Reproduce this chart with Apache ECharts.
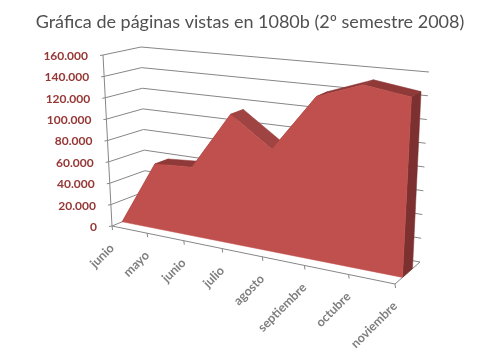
<!DOCTYPE html>
<html>
<head>
<meta charset="utf-8">
<style>
  html, body { margin: 0; padding: 0; background: #fff; }
  #chart { width: 500px; height: 360px; }
</style>
<script src="https://cdn.jsdelivr.net/npm/echarts@6/dist/echarts.min.js"></script>
</head>
<body>
<div id="chart"></div>
<script>
const chartTitle = 'Gráfica de páginas vistas en 1080b (2º semestre 2008)';
const months = ['junio', 'mayo', 'junio', 'julio', 'agosto', 'septiembre', 'octubre', 'noviembre'];
const pageViews = [0, 60000, 62500, 115000, 89000, 139000, 153000, 147000];
const valueTicks = [0, 20000, 40000, 60000, 80000, 100000, 120000, 140000, 160000];
const tickLabels = ['0', '20.000', '40.000', '60.000', '80.000', '100.000', '120.000', '140.000', '160.000'];

// corners of the 3D box on screen: [floor/ceiling][front/back][left/right]
const box = {
  floorFrontLeft: [112, 226], floorFrontRight: [395, 284],
  floorBackLeft: [146, 212], floorBackRight: [420, 262],
  ceilFrontLeft: [103, 55], ceilFrontRight: [405, 85],
  ceilBackLeft: [141, 47], ceilBackRight: [429, 72]
};
const perspective = 0.15;
const areaFront = 0.3;
const areaBack = 0.7;

const mix = (a, b, t) => [a[0] + (b[0] - a[0]) * t, a[1] + (b[1] - a[1]) * t];

// grid is 100x100 px, so api.coord gives the scaled position inside the unit box
function project(api, category, value, depth) {
  const c = api.coord([category, value]);
  const u = c[0] / 100;
  const v = 1 - c[1] / 100;
  const s = u * (1 - perspective) / (1 - perspective * u);
  const floor = mix(mix(box.floorFrontLeft, box.floorFrontRight, s), mix(box.floorBackLeft, box.floorBackRight, s), depth);
  const ceil = mix(mix(box.ceilFrontLeft, box.ceilFrontRight, s), mix(box.ceilBackLeft, box.ceilBackRight, s), depth);
  return mix(floor, ceil, v);
}

const line = (a, b) => ({
  type: 'line',
  shape: { x1: a[0], y1: a[1], x2: b[0], y2: b[1] },
  style: { stroke: '#868686', lineWidth: 1 }
});
const poly = (points, color) => ({
  type: 'polygon',
  shape: { points },
  style: { fill: color, stroke: color, lineWidth: 0.5 }
});

function renderWalls(params, api) {
  const value = api.value(1);
  const last = months.length - 1;
  const front = project(api, 0, value, 0);
  const back = project(api, 0, value, 1);
  const right = project(api, last, value, 1);
  const children = [
    line(front, back),
    line(back, right),
    line(front, [front[0] - 3, front[1] + 0.5]),
    {
      type: 'text',
      x: front[0] - 15,
      y: front[1] + 1,
      style: {
        text: tickLabels[params.dataIndex],
        align: 'right',
        verticalAlign: 'middle',
        fill: '#953735',
        font: 'bold 12px Lato'
      }
    }
  ];
  if (params.dataIndex === 0) {
    children.push(line(front, project(api, 0, 160000, 0)));
    children.push(line(front, project(api, last, 0, 0)));
    children.push(line(project(api, last, 0, 0), right));
  }
  return { type: 'group', children };
}

function renderCategory(params, api) {
  const tick = project(api, api.value(0), 0, 0);
  return {
    type: 'group',
    children: [
      line(tick, [tick[0] + 0.5, tick[1] + 4]),
      {
        type: 'text',
        x: tick[0],
        y: tick[1] + 20,
        rotation: Math.PI / 4,
        style: {
          text: months[params.dataIndex],
          align: 'right',
          verticalAlign: 'middle',
          fill: '#7f7f7f',
          font: 'bold 12.5px Lato'
        }
      }
    ]
  };
}

// one top face per segment, darker when flat, lighter when it falls steeply
function renderTopFace(params, api) {
  const i = params.dataIndex;
  const last = months.length - 1;
  const a = project(api, i, pageViews[i], areaFront);
  const aBack = project(api, i, pageViews[i], areaBack);
  if (i === last) {
    return poly([a, aBack, project(api, i, 0, areaBack), project(api, i, 0, areaFront)], '#7c302f');
  }
  const b = project(api, i + 1, pageViews[i + 1], areaFront);
  const bBack = project(api, i + 1, pageViews[i + 1], areaBack);
  const color = pageViews[i + 1] - pageViews[i] < -20000 ? '#9f4442' : '#8f3a38';
  return poly([a, aBack, bBack, b], color);
}

function renderFront(params, api) {
  if (params.dataIndex !== 0) return null;
  const points = pageViews.map((v, i) => project(api, i, v, areaFront));
  points.push(project(api, months.length - 1, 0, areaFront));
  points.push(project(api, 0, 0, areaFront));
  return poly(points, '#c0504d');
}

const rows = pageViews.map((v, i) => [i, v]);
const chart = echarts.init(document.getElementById('chart'), null, { renderer: 'canvas' });
chart.setOption({
  animation: false,
  title: {
    text: chartTitle,
    left: 'center',
    top: 8,
    textStyle: { fontFamily: 'Lato', fontWeight: 'normal', fontSize: 18, color: '#505050' }
  },
  grid: { left: 0, top: 0, width: 100, height: 100 },
  xAxis: { type: 'category', data: months, boundaryGap: false, show: false },
  yAxis: { type: 'value', min: 0, max: 160000, interval: 20000, show: false },
  series: [
    {
      type: 'custom', name: 'walls', z: 1, renderItem: renderWalls,
      data: valueTicks.map((v, i) => [i, v])
    },
    {
      type: 'custom', name: 'categories', z: 1, renderItem: renderCategory,
      data: months.map((m, i) => [i, 0])
    },
    { type: 'custom', name: 'top', z: 2, renderItem: renderTopFace, data: rows },
    { type: 'custom', name: 'front', z: 3, renderItem: renderFront, data: rows }
  ]
});
</script>
</body>
</html>
